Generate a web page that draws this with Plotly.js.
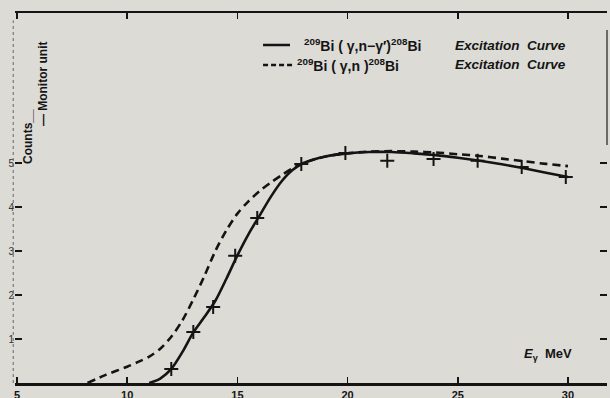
<!DOCTYPE html>
<html>
<head>
<meta charset="utf-8">
<script src="https://cdn.plot.ly/plotly-3.0.1.min.js"></script>
<style>html,body{margin:0;padding:0;background:#dcdbd6;}#chart{width:610px;height:398px;}</style>
</head>
<body>
<div id="chart"></div>
<script>
// Fitted excitation curve, 209Bi(γ,n-γ')208Bi (solid)
const solidE = [11,11.5,12,12.5,13,13.5,14,14.5,15,15.5,16,16.5,17,17.5,18,19,20,21,22,23,24,25,26,27,28,29,30];
const solidY = [0,0.1,0.32,0.7,1.15,1.5,1.87,2.37,2.9,3.38,3.8,4.22,4.58,4.84,5.0,5.15,5.22,5.25,5.25,5.22,5.18,5.12,5.05,4.97,4.88,4.78,4.68];
// Excitation curve, 209Bi(γ,n)208Bi (dashed)
const dashE = [8.2,9,10,10.5,11,11.5,12,12.5,13,13.5,14,14.5,15,15.5,16,16.5,17,17.5,18,19,20,21,22,23,24,25,26,27,28,29,30];
const dashY = [0,0.18,0.37,0.48,0.6,0.78,1.05,1.42,1.9,2.43,3.0,3.47,3.85,4.13,4.36,4.55,4.72,4.88,5.0,5.15,5.22,5.26,5.27,5.26,5.24,5.2,5.16,5.1,5.04,4.98,4.93];
// Measured points (crosses)
const ptsE = [12,13,13.9,14.9,15.9,17.9,19.9,21.8,23.9,25.9,27.9,29.9];
const ptsY = [0.32,1.16,1.73,2.89,3.75,4.98,5.23,5.05,5.09,5.05,4.91,4.68];
// Tick labels
const xTickVals = [5,10,15,20,25,30];
const xTickText = ['5','10','15','20','25','30'];
const yTickVals = [1,2,3,4,5];
const yTickText = ['1','2','3','4','5'];

const ink = '#141414';
const traces = [
  {x: solidE, y: solidY, mode: 'lines', line: {color: ink, width: 2.6, shape: 'spline', smoothing: 0.8}, hoverinfo: 'skip'},
  {x: dashE, y: dashY, mode: 'lines', line: {color: ink, width: 2.6, dash: '8px,5px', shape: 'spline', smoothing: 0.8}, hoverinfo: 'skip'},
  {x: ptsE, y: ptsY, mode: 'markers', marker: {symbol: 'cross-thin', size: 10, color: ink, line: {color: ink, width: 2}}, hoverinfo: 'skip'}
];

const fnt = {family: 'Liberation Sans, Arial, sans-serif', color: ink};
const layout = {
  width: 610, height: 398,
  margin: {l: 15, r: 3, t: 13, b: 15},
  paper_bgcolor: '#dcdbd6', plot_bgcolor: '#dcdbd6',
  showlegend: false,
  xaxis: {
    range: [4.909, 31.77], showgrid: false, zeroline: false,
    showline: true, linecolor: ink, linewidth: 2.5, mirror: 'allticks',
    ticks: 'inside', ticklen: 6, tickwidth: 1.5, tickcolor: ink,
    tickvals: xTickVals, ticktext: xTickText,
    tickfont: Object.assign({size: 11, weight: 'bold'}, fnt)
  },
  yaxis: {
    range: [0, 8.41], showgrid: false, zeroline: false, showline: false,
    mirror: 'ticks',
    ticks: 'inside', ticklen: 7, tickwidth: 2, tickcolor: ink,
    tickvals: yTickVals, ticktext: yTickText,
    tickfont: Object.assign({}, fnt, {size: 10, color: '#333'})
  },
  shapes: [
    {type: 'line', xref: 'paper', yref: 'paper', x0: -0.003, x1: -0.003, y0: 0, y1: 0.98,
     line: {color: '#666', width: 1, dash: 'dot'}},
    {type: 'line', xref: 'paper', yref: 'paper', x0: 1.0, x1: 1.0, y0: 0.643, y1: 0.954,
     line: {color: '#444', width: 1.5}},
    {type: 'line', xref: 'paper', yref: 'paper', x0: 0.419, x1: 0.4645, y0: 0.9135, y1: 0.9135,
     line: {color: ink, width: 2.5}},
    {type: 'line', xref: 'paper', yref: 'paper', x0: 0.419, x1: 0.470, y0: 0.8595, y1: 0.8595,
     line: {color: ink, width: 2.5, dash: '5px,3px'}}
  ],
  annotations: [
    {xref: 'paper', yref: 'paper', x: 0.4848, y: 0.9135, xanchor: 'left', yanchor: 'middle', showarrow: false,
     text: '<sup>209</sup>Bi ( γ,n−γ′)<sup>208</sup>Bi', font: Object.assign({size: 14, weight: 'bold'}, fnt)},
    {xref: 'paper', yref: 'paper', x: 0.934, y: 0.9135, xanchor: 'right', yanchor: 'middle', showarrow: false,
     text: '<i>Excitation  Curve</i>', font: Object.assign({size: 13.5, weight: 'bold'}, fnt)},
    {xref: 'paper', yref: 'paper', x: 0.473, y: 0.8595, xanchor: 'left', yanchor: 'middle', showarrow: false,
     text: '<sup>209</sup>Bi ( γ,n )<sup>208</sup>Bi', font: Object.assign({size: 14, weight: 'bold'}, fnt)},
    {xref: 'paper', yref: 'paper', x: 0.934, y: 0.8595, xanchor: 'right', yanchor: 'middle', showarrow: false,
     text: '<i>Excitation  Curve</i>', font: Object.assign({size: 13.5, weight: 'bold'}, fnt)},
    {xref: 'paper', yref: 'paper', x: 0.9, y: 0.076, xanchor: 'center', yanchor: 'middle', showarrow: false,
     text: '<i>E</i><sub>γ</sub>  MeV', font: Object.assign({size: 13, weight: 'bold'}, fnt)},
    {xref: 'paper', yref: 'paper', x: 0.022, y: 0.665, xanchor: 'center', yanchor: 'middle', showarrow: false,
     textangle: -90, text: 'Counts__', font: Object.assign({size: 12, weight: 'bold'}, fnt)},
    {xref: 'paper', yref: 'paper', x: 0.047, y: 0.81, xanchor: 'center', yanchor: 'middle', showarrow: false,
     textangle: -90, text: '— Monitor unit', font: Object.assign({size: 12, weight: 'bold'}, fnt)}
  ]
};
Plotly.newPlot('chart', traces, layout, {staticPlot: true, displayModeBar: false});
</script>
</body>
</html>
